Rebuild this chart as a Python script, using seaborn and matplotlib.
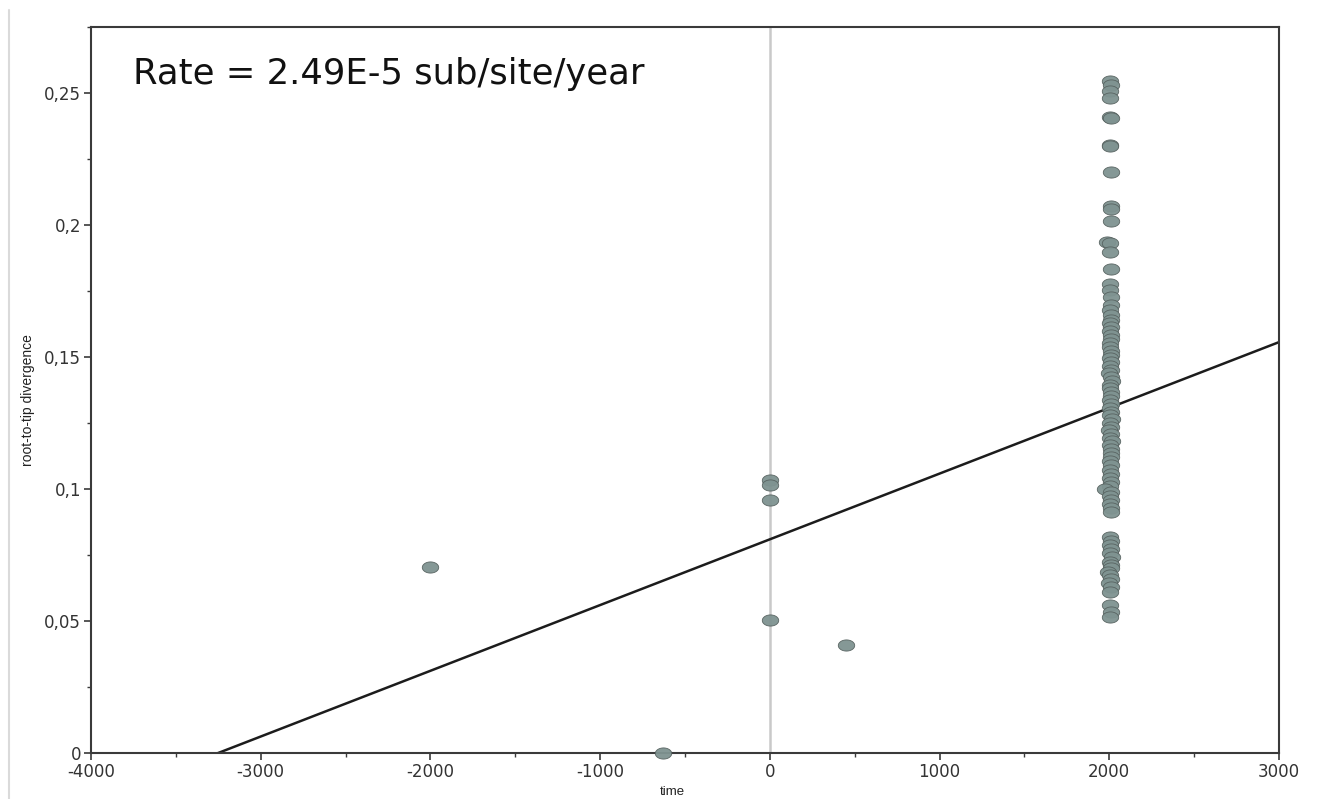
import numpy as np
import pandas as pd
import matplotlib
matplotlib.use("Agg")
import matplotlib.pyplot as plt
from matplotlib.path import Path
from matplotlib.ticker import MultipleLocator, FuncFormatter
from matplotlib.lines import Line2D
import seaborn as sns

# ---- data -------------------------------------------------------------
# Ancient / early samples
early_time = [-2000, 0, 0, 0, 0, 450, -630]
early_div = [0.0705, 0.1035, 0.1015, 0.0958, 0.0504, 0.0409, 0.0000]

# Modern samples (collection year, root-to-tip divergence)
modern_div = [
    0.2545, 0.2530, 0.2508, 0.2481, 0.2409, 0.2405, 0.2303, 0.2299, 0.2201,
    0.2072, 0.2061, 0.2015, 0.1936, 0.1932, 0.1898, 0.1833, 0.1777, 0.1754,
    0.1727, 0.1697, 0.1678, 0.1659, 0.1640, 0.1629, 0.1614, 0.1598, 0.1583,
    0.1568, 0.1553, 0.1538, 0.1523, 0.1508, 0.1496, 0.1481, 0.1466, 0.1451,
    0.1439, 0.1424, 0.1409, 0.1394, 0.1383, 0.1367, 0.1352, 0.1337, 0.1322,
    0.1307, 0.1292, 0.1280, 0.1265, 0.1250, 0.1235, 0.1223, 0.1208, 0.1193,
    0.1182, 0.1167, 0.1152, 0.1136, 0.1121, 0.1106, 0.1091, 0.1072, 0.1057,
    0.1042, 0.1027, 0.1011, 0.1000, 0.0989, 0.0973, 0.0958, 0.0943, 0.0928,
    0.0913, 0.0818, 0.0803, 0.0788, 0.0773, 0.0758, 0.0742, 0.0723, 0.0712,
    0.0701, 0.0686, 0.0674, 0.0659, 0.0644, 0.0629, 0.0610, 0.0561, 0.0534,
    0.0515,
]
modern_time = [
    2005, 2008, 2003, 2006, 2004, 2009, 2003, 2007, 2010,
    2008, 2012, 2009, 1985, 2005, 2007, 2011, 2006, 2004,
    2009, 2012, 2003, 2008, 2010, 2005, 2013, 2002, 2009,
    2011, 2006, 2004, 2012, 2008, 2003, 2010, 2007, 2013,
    2001, 2009, 2014, 2006, 2003, 2011, 2008, 2005, 2012,
    2002, 2010, 2007, 2014, 2004, 2009, 2000, 2012, 2006,
    2016, 2003, 2010, 2008, 2013, 2005, 2011, 2002, 2009,
    2007, 2012, 2004, 1975, 2010, 2006, 2013, 2003, 2008,
    2011, 2006, 2009, 2004, 2012, 2007, 2014, 2002, 2010,
    2008, 1990, 2005, 2012, 2000, 2009, 2006, 2004, 2010,
    2007,
]

# Root-to-tip regression: slope (rate) and x-intercept (root age)
rate = 2.49e-5
root_time = -3250
line_time = [-4000, 3000]

x_ticks = [-4000, -3000, -2000, -1000, 0, 1000, 2000, 3000]
y_ticks = [0, 0.05, 0.1, 0.15, 0.2, 0.25]

# ---- figure -----------------------------------------------------------
sns.set_style("ticks")
plt.rcParams["font.family"] = ["DejaVu Sans"]

fig = plt.figure(figsize=(13.2, 7.99), dpi=100)
ax = fig.add_axes([0.0689, 0.0576, 0.9, 0.9086])

# Light frame line on the left of the canvas
fig.add_artist(Line2D([0.0065, 0.0065], [0.0, 0.988], transform=fig.transFigure,
                      color="#dadada", lw=1.5))

# Reference line at year 0
ax.axvline(0, color="#c9c9c9", lw=1.8, zorder=0)

# Regression line
line_df = pd.DataFrame({"time": line_time})
line_df["div"] = rate * (line_df["time"] - root_time)
sns.lineplot(data=line_df, x="time", y="div", ax=ax, color="#1c1c1c", lw=1.8,
             zorder=2)

# Elliptical marker, wider than tall
theta = np.linspace(0, 2 * np.pi, 60)
ellipse = Path(np.column_stack([np.cos(theta), 0.68 * np.sin(theta)]), closed=True)

pts = pd.DataFrame({
    "time": early_time + modern_time,
    "div": early_div + modern_div,
})
sns.scatterplot(data=pts, x="time", y="div", ax=ax, marker=ellipse, s=140,
                color="#7f9391", edgecolor="#56615f", linewidth=0.6, alpha=0.95,
                zorder=3, clip_on=False)

# ---- axes styling -------------------------------------------------------
ax.set_xlim(-4000, 3000)
ax.set_ylim(0, 0.275)
ax.set_xticks(x_ticks)
ax.set_yticks(y_ticks)
ax.xaxis.set_minor_locator(MultipleLocator(500))
ax.yaxis.set_minor_locator(MultipleLocator(0.025))
ax.yaxis.set_major_formatter(FuncFormatter(lambda v, p: f"{v:g}".replace(".", ",")))
ax.xaxis.set_major_formatter(FuncFormatter(lambda v, p: f"{int(v)}"))

for side in ["left", "bottom", "top", "right"]:
    ax.spines[side].set_visible(True)
    ax.spines[side].set_color("#3a3a3a")
    ax.spines[side].set_linewidth(1.5)

ax.tick_params(axis="both", which="major", length=5, width=1.2, color="#3a3a3a",
               labelsize=12, labelcolor="#333333", pad=2)
ax.tick_params(axis="both", which="minor", length=3, width=1.0, color="#3a3a3a")
ax.tick_params(axis="x", which="both", top=False)
ax.tick_params(axis="y", which="both", right=False)

narrow = ["Liberation Sans Narrow", "Liberation Sans", "DejaVu Sans"]
ax.set_xlabel("time", fontsize=9.5, family=narrow, color="#222222")
ax.set_ylabel("root-to-tip divergence", fontsize=10, family=narrow,
              color="#222222")
ax.xaxis.set_label_coords(0.489, -0.046)
ax.yaxis.set_label_coords(-0.047, 0.486)

ax.text(0.035, 0.935, "Rate = 2.49E-5 sub/site/year", transform=ax.transAxes,
        fontsize=25.5, family=["DejaVu Sans"], color="#111111",
        ha="left", va="center")

fig.savefig("out.png", dpi=100)
